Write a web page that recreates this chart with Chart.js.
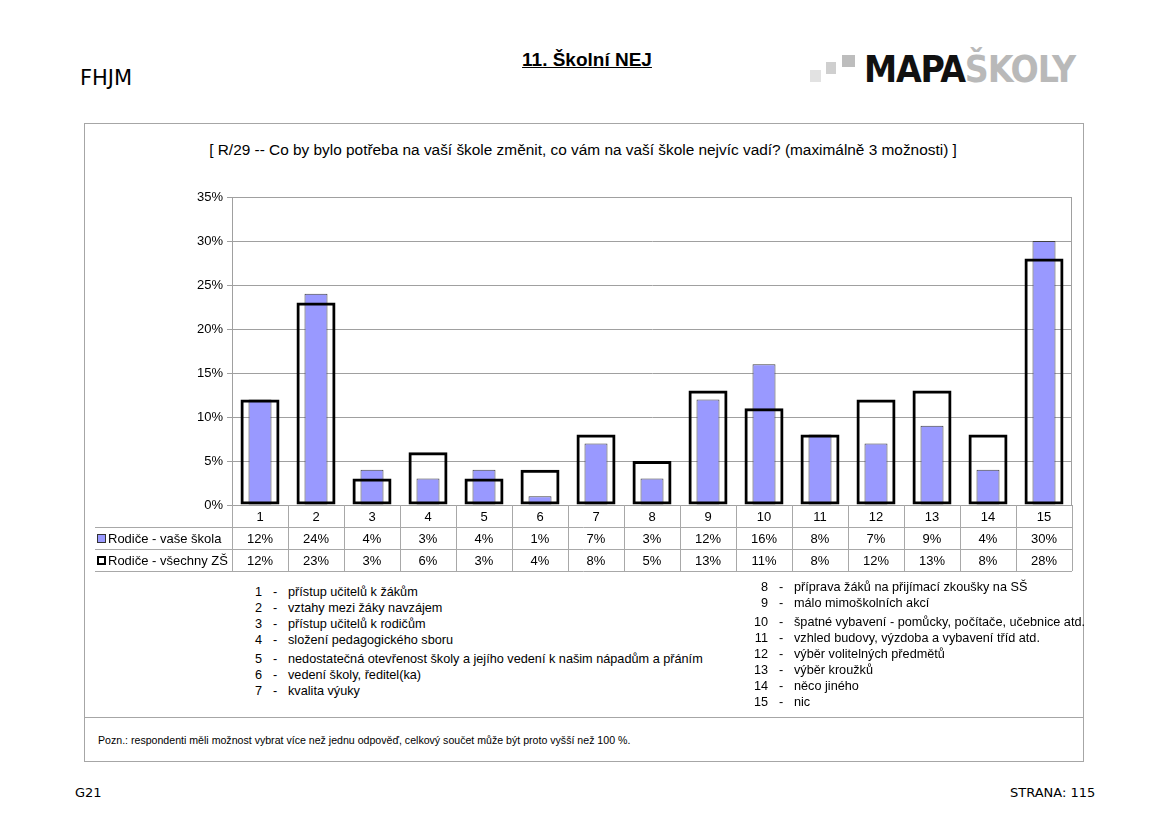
<!DOCTYPE html>
<html>
<head>
<meta charset="utf-8">
<script src="https://cdn.jsdelivr.net/npm/chart.js@4"></script>
<style>
  body { margin: 0; width: 1169px; height: 827px; background: #fff; position: relative; overflow: hidden; font-family: "Liberation Sans", Arial, sans-serif; }
  .abs { position: absolute; white-space: nowrap; }
  #frame { position: absolute; left: 84px; top: 123px; width: 998px; height: 637px; border: 1px solid #a6a6a6; }
  #sep { position: absolute; left: 84px; top: 717px; width: 1000px; height: 1px; background: #a6a6a6; }
  #chart { position: absolute; left: 84px; top: 123px; }
  .leg { position: absolute; font-size: 12.7px; color: #000; }
  .leg div { height: 16px; line-height: 16px; white-space: nowrap; }
  .leg span.n { display: inline-block; text-align: right; }
  .leg span.d { display: inline-block; text-align: center; }
  .sq { position: absolute; }
</style>
</head>
<body>
<div class="abs" style="left:80px; top:66px; font-family:'DejaVu Sans'; font-size:21px;">FHJM</div>
<div class="abs" style="left:0; width:1174px; text-align:center; top:49px; font-weight:bold; font-size:19px; text-decoration:underline;">11. Školní NEJ</div>

<div class="sq" style="left:810px; top:70px; width:11px; height:12px; background:#e2e2e2;"></div>
<div class="sq" style="left:826px; top:62px; width:10px; height:12px; background:#cfcfcf;"></div>
<div class="sq" style="left:842px; top:55px; width:13px; height:12px; background:#bdbdbd;"></div>
<div class="abs" style="left:864px; top:48px; font-family:'DejaVu Sans Condensed','DejaVu Sans'; font-weight:bold; font-size:37px; letter-spacing:-1.2px;"><span style="color:#111;">MAPA</span><span style="color:#b9b9b9;">ŠKOLY</span></div>

<div id="frame"></div>
<div id="sep"></div>
<div class="abs" style="left:0; width:1166px; top:141px; text-align:center; font-size:15.4px;" id="question"></div>
<canvas id="chart" width="999" height="460"></canvas>

<div class="leg" id="legLeft" style="left:248px; top:584px;"></div>
<div class="leg" id="legRight" style="left:752px; top:579px;"></div>

<div class="abs" style="left:98px; top:734px; font-size:10.6px;" id="note"></div>
<div class="abs" style="left:75px; top:785px; font-family:'DejaVu Sans'; font-size:13px;">G21</div>
<div class="abs" style="left:1010px; top:785px; font-family:'DejaVu Sans'; font-size:13px;">STRANA: 115</div>

<script>
const categories = ['1', '2', '3', '4', '5', '6', '7', '8', '9', '10', '11', '12', '13', '14', '15'];
const vaseSkola = [12, 24, 4, 3, 4, 1, 7, 3, 12, 16, 8, 7, 9, 4, 30];
const vsechnyZS = [12, 23, 3, 6, 3, 4, 8, 5, 13, 11, 8, 12, 13, 8, 28];
const seriesNames = ['Rodiče - vaše škola', 'Rodiče - všechny ZŠ'];

const questionText = '[ R/29 -- Co by bylo potřeba na vaší škole změnit, co vám na vaší škole nejvíc vadí? (maximálně 3 možnosti) ]';
const noteText = 'Pozn.: respondenti měli možnost vybrat více než jednu odpověď, celkový součet může být proto vyšší než 100 %.';

const answersLeft = [
    'přístup učitelů k žákům',
    'vztahy mezi žáky navzájem',
    'přístup učitelů k rodičům',
    'složení pedagogického sboru',
    'nedostatečná otevřenost školy a jejího vedení k našim nápadům a přáním',
    'vedení školy, ředitel(ka)',
    'kvalita výuky'
];
const answersRight = [
    'příprava žáků na přijímací zkoušky na SŠ',
    'málo mimoškolních akcí',
    'špatné vybavení - pomůcky, počítače, učebnice atd.',
    'vzhled budovy, výzdoba a vybavení tříd atd.',
    'výběr volitelných předmětů',
    'výběr kroužků',
    'něco jiného',
    'nic'
];

document.getElementById('question').textContent = questionText;
document.getElementById('note').textContent = noteText;

const fillList = (el, items, start, numW, gaps) => {
    items.forEach((txt, i) => {
        const row = document.createElement('div');
        if (gaps[i]) row.style.marginTop = gaps[i] + 'px';
        row.innerHTML = `<span class="n" style="width:${numW}px">${start + i}</span><span class="d" style="width:26px">-</span>${txt}`;
        el.appendChild(row);
    });
};
fillList(document.getElementById('legLeft'), answersLeft, 1, 14, {4: 3});
fillList(document.getElementById('legRight'), answersRight, 8, 16, {2: 3});

// table under the plot, columns follow the x scale
const tablePlugin = {
    id: 'table',
    afterDraw(chart) {
        const ctx = chart.ctx;
        const area = chart.chartArea;
        const x = chart.scales.x;
        const rowH = 22;
        const left = 11;
        const step = x.getPixelForValue(1) - x.getPixelForValue(0);

        ctx.save();
        // plot border
        ctx.strokeStyle = '#a0a0a0';
        ctx.lineWidth = 1;
        ctx.strokeRect(area.left + 0.5, area.top + 0.5, area.right - area.left - 1, area.bottom - area.top);

        ctx.strokeStyle = '#a8a8a8';
        ctx.beginPath();
        for (let i = 0; i <= categories.length; i++) {
            const px = Math.round(x.getPixelForValue(i) - step / 2) + 0.5;
            ctx.moveTo(px, area.bottom);
            ctx.lineTo(px, area.bottom + rowH * 3);
        }
        for (let r = 1; r <= 3; r++) {
            const py = area.bottom + rowH * r + 0.5;
            ctx.moveTo(left, py);
            ctx.lineTo(area.right, py);
        }
        ctx.stroke();

        ctx.fillStyle = '#000';
        ctx.font = '13px "Liberation Sans", Arial, sans-serif';
        ctx.textAlign = 'center';
        ctx.textBaseline = 'middle';
        const rows = [categories, vaseSkola.map(v => v + '%'), vsechnyZS.map(v => v + '%')];
        rows.forEach((vals, r) => {
            vals.forEach((v, i) => {
                ctx.fillText(v, x.getPixelForValue(i), area.bottom + rowH * r + rowH / 2 + 1);
            });
        });

        // series keys
        ctx.textAlign = 'left';
        const y1 = area.bottom + rowH * 1.5 + 1;
        const y2 = area.bottom + rowH * 2.5 + 1;
        ctx.fillStyle = '#9999ff';
        ctx.fillRect(left + 2, y1 - 4, 8, 8);
        ctx.strokeStyle = '#333';
        ctx.lineWidth = 1;
        ctx.strokeRect(left + 2.5, y1 - 4.5, 8, 8);
        ctx.strokeStyle = '#000';
        ctx.lineWidth = 2;
        ctx.strokeRect(left + 3, y2 - 4, 7, 7);
        ctx.fillStyle = '#000';
        ctx.fillText(seriesNames[0], left + 13, y1);
        ctx.fillText(seriesNames[1], left + 13, y2);
        ctx.restore();
    }
};

const ctx = document.getElementById('chart').getContext('2d');
new Chart(ctx, {
    type: 'bar',
    data: {
        labels: categories,
        datasets: [{
            label: seriesNames[0],
            data: vaseSkola,
            backgroundColor: '#9999ff',
            borderColor: '#404040',
            borderWidth: 1,
            borderSkipped: false,
            barPercentage: 23 / 56,
            categoryPercentage: 1,
            grouped: false,
            order: 2
        }, {
            label: seriesNames[1],
            data: vsechnyZS,
            backgroundColor: 'rgba(0,0,0,0)',
            borderColor: '#000',
            borderWidth: 3,
            borderSkipped: false,
            barPercentage: 39 / 56,
            categoryPercentage: 1,
            grouped: false,
            order: 1
        }]
    },
    options: {
        responsive: false,
        animation: false,
        layout: { padding: { left: 0, top: 74, right: 11, bottom: 78 } },
        plugins: { legend: { display: false }, tooltip: { enabled: false } },
        scales: {
            x: { display: false },
            y: {
                min: 0,
                max: 35,
                ticks: {
                    stepSize: 5,
                    callback: v => v + '%',
                    color: '#000',
                    padding: 4,
                    font: { family: '"Liberation Sans", Arial, sans-serif', size: 13 }
                },
                grid: { color: '#a0a0a0', tickLength: 5 },
                border: { color: '#a0a0a0' },
                afterFit: s => { s.width = 148; }
            }
        }
    },
    plugins: [tablePlugin]
});
</script>
</body>
</html>
